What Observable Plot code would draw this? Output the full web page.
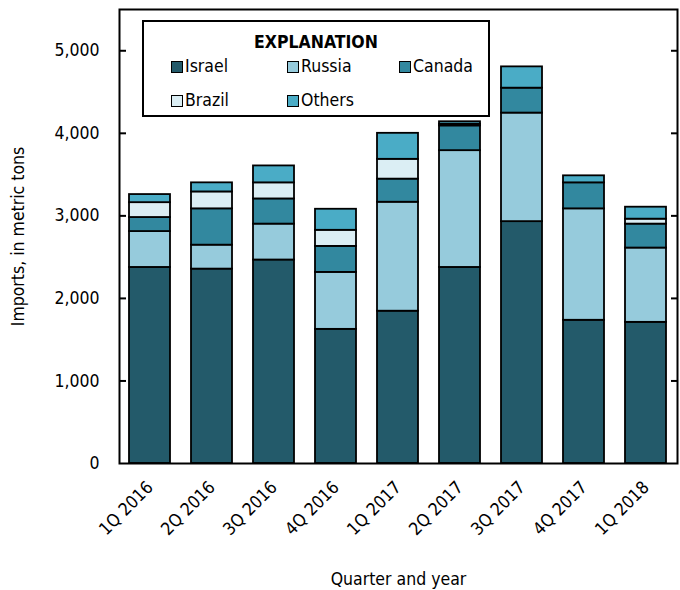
<!DOCTYPE html>
<html>
<head>
<meta charset="utf-8">
<script src="https://cdn.jsdelivr.net/npm/d3@7"></script>
<script src="https://cdn.jsdelivr.net/npm/@observablehq/plot@0.6"></script>
<style>
  html, body { margin: 0; padding: 0; background: #fff; }
  #wrap { position: relative; width: 680px; height: 590px; }
  #legend { position: absolute; left: 142px; top: 20px; width: 348px; height: 97px; border: 2px solid #000; background: #fff; box-sizing: border-box; }
  #legend .title { position: absolute; left: 0; right: 0; top: 12px; text-align: center; font-weight: bold; line-height: 1; }
  #legend .item { position: absolute; display: flex; align-items: center; line-height: 1; }
  #legend .sw { width: 10px; height: 10px; border: 1.5px solid #000; margin-right: 2px; display: inline-block; }
</style>
</head>
<body>
<div id="wrap"></div>
<script>
const quarters = ["1Q 2016","2Q 2016","3Q 2016","4Q 2016","1Q 2017","2Q 2017","3Q 2017","4Q 2017","1Q 2018"];
const countries = ["Israel","Russia","Canada","Brazil","Others"];
const colors = ["#235a6a","#96cbdc","#32889f","#dbeef4","#4aacc6"];
const israel = [2375, 2355, 2465, 1625, 1845, 2375, 2930, 1735, 1710];
const russia = [435, 290, 435, 690, 1320, 1415, 1315, 1350, 900];
const canada = [170, 440, 305, 315, 280, 300, 302, 315, 290];
const brazil = [180, 205, 195, 195, 240, 20, 0, 0, 60];
const others = [98, 110, 205, 255, 315, 30, 258, 85, 145];
const yTicks = [0, 1000, 2000, 3000, 4000, 5000];

// pick a condensed font if one is installed
function hasFont(name) {
  const c = document.createElement("canvas").getContext("2d");
  const s = "5,000 Quarter and year EXPLANATION";
  c.font = "40px monospace"; const a = c.measureText(s).width;
  c.font = `40px "${name}", monospace`; const b = c.measureText(s).width;
  c.font = "40px serif"; const a2 = c.measureText(s).width;
  c.font = `40px "${name}", serif`; const b2 = c.measureText(s).width;
  return a !== b || a2 !== b2;
}
const narrowCandidates = ["Liberation Sans Narrow", "Arial Narrow", "DejaVu Sans Condensed", "Roboto Condensed", "Open Sans Condensed", "Noto Sans Condensed"];
const narrow = narrowCandidates.find(hasFont);
const family = narrow ? `"${narrow}", "Liberation Sans", sans-serif` : `"Liberation Sans", Arial, sans-serif`;
const fs = narrow === "Liberation Sans Narrow" || narrow === "Arial Narrow" ? 20 : narrow ? 17.5 : 16.5;

const series = [israel, russia, canada, brazil, others];
const data = [];
quarters.forEach((q, i) => {
  countries.forEach((c, j) => data.push({quarter: q, country: c, value: series[j][i]}));
});

const chart = Plot.plot({
  width: 680,
  height: 590,
  marginLeft: 119,
  marginRight: 3,
  marginTop: 9,
  marginBottom: 127,
  style: {fontFamily: family, fontSize: fs + "px", color: "#000", background: "#fff"},
  x: {domain: quarters, paddingInner: 0.333, paddingOuter: 0.15},
  y: {domain: [0, 5500]},
  color: {domain: countries, range: colors},
  marks: [
    Plot.barY(data, {x: "quarter", y: "value", fill: "country", stroke: "#000", strokeWidth: 1.8, order: countries}),
    Plot.axisY({anchor: "left", ticks: yTicks, tickSize: 0, tickPadding: 20, tickFormat: d3.format(","), fontSize: fs,
      label: "Imports, in metric tons", labelAnchor: "center", labelArrow: "none", labelOffset: 108}),
    Plot.axisY({anchor: "left", ticks: yTicks.slice(1), tickSize: 7, text: null, dx: 7, strokeWidth: 2, label: null}),
    Plot.axisY({anchor: "right", ticks: yTicks.slice(1), tickSize: 7, text: null, dx: -7, strokeWidth: 2, label: null}),
    Plot.axisX({tickSize: 0, tickRotate: -45, tickPadding: 21, fontSize: fs,
      label: "Quarter and year", labelAnchor: "center", labelArrow: "none", labelOffset: 121}),
    Plot.frame({stroke: "#000", strokeWidth: 2})
  ]
});

const wrap = document.getElementById("wrap");
wrap.style.fontFamily = family;
wrap.appendChild(chart);

// Legend overlay
const legend = document.createElement("div");
legend.id = "legend";
legend.innerHTML = `<div class="title" style="font-size:${fs}px">EXPLANATION</div>`;
const pos = [[27, 36], [143, 36], [255, 36], [27, 70], [143, 70]];
countries.forEach((c, j) => {
  const it = document.createElement("div");
  it.className = "item";
  it.style.left = pos[j][0] + "px";
  it.style.top = pos[j][1] + "px";
  it.style.fontSize = fs + "px";
  it.innerHTML = `<span class="sw" style="background:${colors[j]}"></span>${c}`;
  legend.appendChild(it);
});
wrap.appendChild(legend);
</script>
</body>
</html>
